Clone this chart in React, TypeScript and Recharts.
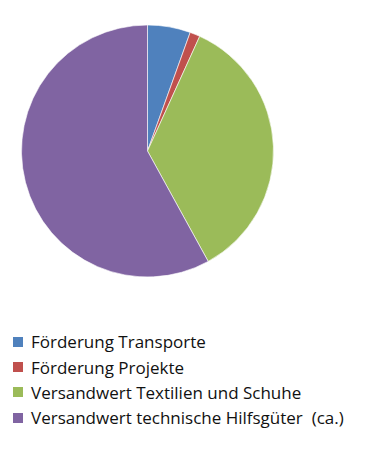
import { Cell, Pie, PieChart } from "recharts";

// Spendenverteilung – values (percent of total)
const categories = [
  "Förderung Transporte",
  "Förderung Projekte",
  "Versandwert Textilien und Schuhe",
  "Versandwert technische Hilfsgüter  (ca.)",
];
const shares = [5.5, 1.3, 35.2, 58.0];
const colors = ["#4F81BD", "#C0504D", "#9BBB59", "#8064A2"];

const data = categories.map((name, i) => ({ name, value: shares[i] }));

function LegendList() {
  return (
    <div style={{ position: "absolute", left: 13, top: 329 }}>
      {categories.map((name, i) => (
        <div
          key={name}
          style={{
            display: "flex",
            alignItems: "center",
            height: 25.4,
            fontFamily: "'Open Sans', sans-serif",
            fontSize: 17,
            color: "#111",
            whiteSpace: "pre",
          }}
        >
          <span
            style={{
              display: "inline-block",
              width: 10,
              height: 10,
              background: colors[i],
              marginRight: 8,
            }}
          />
          {name}
        </div>
      ))}
    </div>
  );
}

export default function App() {
  return (
    <div
      style={{
        position: "absolute",
        left: 0,
        top: 0,
        width: 370,
        height: 451,
        background: "#fff",
      }}
    >
      <PieChart width={370} height={451} margin={{ top: 0, right: 0, bottom: 0, left: 0 }}>
        <Pie
          data={data}
          dataKey="value"
          nameKey="name"
          cx={147.5}
          cy={151}
          outerRadius={126}
          startAngle={90}
          endAngle={-270}
          stroke="#ffffff"
          strokeWidth={0.6}
          isAnimationActive={false}
        >
          {data.map((d, i) => (
            <Cell key={d.name} fill={colors[i]} />
          ))}
        </Pie>
      </PieChart>
      <LegendList />
    </div>
  );
}
